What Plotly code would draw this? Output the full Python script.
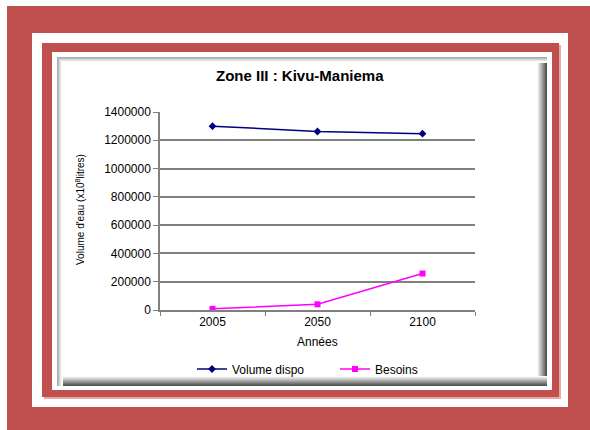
import plotly.graph_objects as go

# ---- data ----
years = ["2005", "2050", "2100"]
volume_dispo = [1300000, 1262000, 1247000]
besoins = [8000, 40000, 258000]
y_ticks = [0, 200000, 400000, 600000, 800000, 1000000, 1200000, 1400000]

W, H = 590, 430
L, R, T, B = 160, 115, 112, 120
PW, PH = W - L - R, H - T - B


def fx(X):
    return (X - L) / PW


def fy(Y):
    return (H - B - Y) / PH


shapes = []


def rect(x0, y0, x1, y1, color):
    shapes.append(dict(type="rect", xref="paper", yref="paper",
                       x0=fx(x0), x1=fx(x1), y0=fy(y1), y1=fy(y0),
                       fillcolor=color, line_width=0, layer="below"))


def gray(v):
    v = max(0, min(255, int(v)))
    return f"rgb({v},{v},{v})"


RED = "#C0504D"
rect(7, 6, 590, 430, RED)
rect(32, 33, 568, 407, "white")
rect(44, 45, 561, 399, "#E8A8A6")
rect(42, 43, 559, 397, RED)
rect(52, 52, 552, 390, "white")
# shadowed inner box
bx0, by0, bx1, by1 = 57, 57, 547, 386
rect(bx0, by0, bx1, by1, gray(170))
for k in range(1, 5):
    rect(bx0 + k, by0 + k, bx1, by1, gray(170 + k * 20))
rect(bx0 + 5, by0 + 5, bx1, by1, "white")
for j in range(10):
    rect(bx1 - 10 + j, by0 + 6, bx1, by1, gray(250 - j * 19))
for j in range(10):
    rect(bx0 + 6, by1 - 10 + j, bx1, by1, gray(250 - j * 19))

FONT = "Liberation Sans, Arial, sans-serif"

fig = go.Figure()
fig.add_trace(go.Scatter(
    x=years, y=volume_dispo, name="Volume dispo", mode="lines+markers",
    line=dict(color="#000080", width=1.5), legend="legend",
    marker=dict(symbol="diamond", size=6, color="#000080")))
fig.add_trace(go.Scatter(
    x=years, y=besoins, name="Besoins", mode="lines+markers",
    line=dict(color="#FF00FF", width=1.5), legend="legend2",
    marker=dict(symbol="square", size=6, color="#FF00FF")))

leg_common = dict(orientation="h", xanchor="left", yanchor="middle",
                  font=dict(size=12), bgcolor="rgba(0,0,0,0)", itemwidth=30)

fig.update_layout(
    width=W, height=H,
    margin=dict(l=L, r=R, t=T, b=B, pad=0),
    paper_bgcolor="white", plot_bgcolor="rgba(0,0,0,0)",
    font=dict(family=FONT, color="black", size=12),
    shapes=shapes,
    showlegend=True,
    legend=dict(x=fx(192), y=fy(369), **leg_common),
    legend2=dict(x=fx(335), y=fy(369), **leg_common),
    annotations=[
        dict(text="<b>Zone III : Kivu-Maniema</b>", xref="paper", yref="paper",
             x=fx(300), y=fy(75), showarrow=False, font=dict(size=15),
             xanchor="center", yanchor="middle"),
        dict(text="Volume d'eau (x10<sup>8</sup>litres)", xref="paper", yref="paper",
             x=fx(80), y=fy(210), showarrow=False, textangle=-90,
             font=dict(size=10), xanchor="center", yanchor="middle"),
        dict(text="Années", xref="paper", yref="paper",
             x=fx(317), y=fy(342), showarrow=False, font=dict(size=12),
             xanchor="center", yanchor="middle"),
    ],
)
fig.update_xaxes(type="category", categoryorder="array", categoryarray=years,
                 tickson="boundaries", ticks="outside", ticklen=4,
                 tickcolor="#808080", showline=True, linecolor="#808080",
                 linewidth=1.5, showgrid=False, tickfont=dict(size=12),
                 range=[-0.5, 2.5])
fig.update_yaxes(range=[0, 1400000], tickvals=y_ticks,
                 ticktext=[str(v) for v in y_ticks],
                 ticks="outside", ticklen=5, tickcolor="#808080",
                 showline=True, linecolor="#808080", linewidth=1.5,
                 showgrid=True, gridcolor="#808080", gridwidth=1.5,
                 zeroline=False, tickfont=dict(size=12))

fig.write_html("out.html", config=dict(displayModeBar=False),
               post_script="document.body.style.margin='0';document.body.style.overflow='hidden';")
